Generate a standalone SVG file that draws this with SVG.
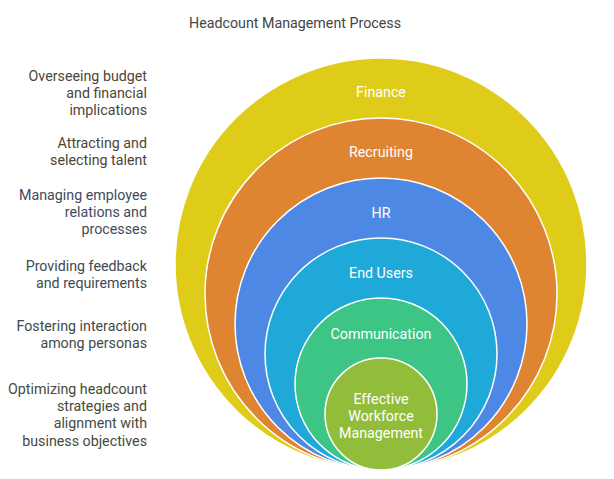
<svg xmlns="http://www.w3.org/2000/svg" width="614" height="479" viewBox="0 0 614 479">
<style>
text{font-family:Roboto,"Liberation Sans",sans-serif;font-size:14.25px}
.c{stroke:#fff;stroke-width:1.5}
.in{fill:#fff;text-anchor:middle}
.lb{text-anchor:end}
</style>
<rect width="614" height="479" fill="#fff"/>
<text x="295" y="27.5" text-anchor="middle" fill="#444">Headcount Management Process</text>
<g id="finance"><circle class="c" cx="381" cy="264" r="206" fill="#DFCC19"/><text class="in" x="381" y="97">Finance</text></g>
<g id="recruiting"><circle class="c" cx="381" cy="294" r="176" fill="#DF8431"/><text class="in" x="381" y="156.5">Recruiting</text></g>
<g id="hr"><circle class="c" cx="381" cy="324" r="146" fill="#4E88E5"/><text class="in" x="381" y="218">HR</text></g>
<g id="endusers"><circle class="c" cx="381" cy="354" r="116" fill="#1FA9D8"/><text class="in" x="381" y="278">End Users</text></g>
<g id="communication"><circle class="c" cx="381" cy="384" r="86" fill="#3CC585"/><text class="in" x="381" y="339">Communication</text></g>
<g id="effective"><circle class="c" cx="381" cy="414" r="56" fill="#92BD3A"/><text class="in" x="381" y="403.5">Effective</text><text class="in" x="381" y="421">Workforce</text><text class="in" x="381" y="438">Management</text></g>
<g id="labels">
<text class="lb" x="147" y="81" fill="#4d4537">Overseeing budget</text>
<text class="lb" x="147" y="98" fill="#4d4537">and financial</text>
<text class="lb" x="147" y="115" fill="#4d4537">implications</text>
<text class="lb" x="147" y="148" fill="#4d4537">Attracting and</text>
<text class="lb" x="147" y="165" fill="#4d4537">selecting talent</text>
<text class="lb" x="147" y="199.5" fill="#3f4b5e">Managing employee</text>
<text class="lb" x="147" y="217" fill="#3f4b5e">relations and</text>
<text class="lb" x="147" y="234" fill="#3f4b5e">processes</text>
<text class="lb" x="147" y="270.5" fill="#3d4b55">Providing feedback</text>
<text class="lb" x="147" y="287.5" fill="#3d4b55">and requirements</text>
<text class="lb" x="147" y="330.5" fill="#3f4a4a">Fostering interaction</text>
<text class="lb" x="147" y="347.5" fill="#3f4a4a">among personas</text>
<text class="lb" x="147" y="393.5" fill="#454a3d">Optimizing headcount</text>
<text class="lb" x="147" y="411" fill="#454a3d">strategies and</text>
<text class="lb" x="147" y="428" fill="#454a3d">alignment with</text>
<text class="lb" x="147" y="445.5" fill="#454a3d">business objectives</text>
</g>
<g id="connectors"/>
</svg>
